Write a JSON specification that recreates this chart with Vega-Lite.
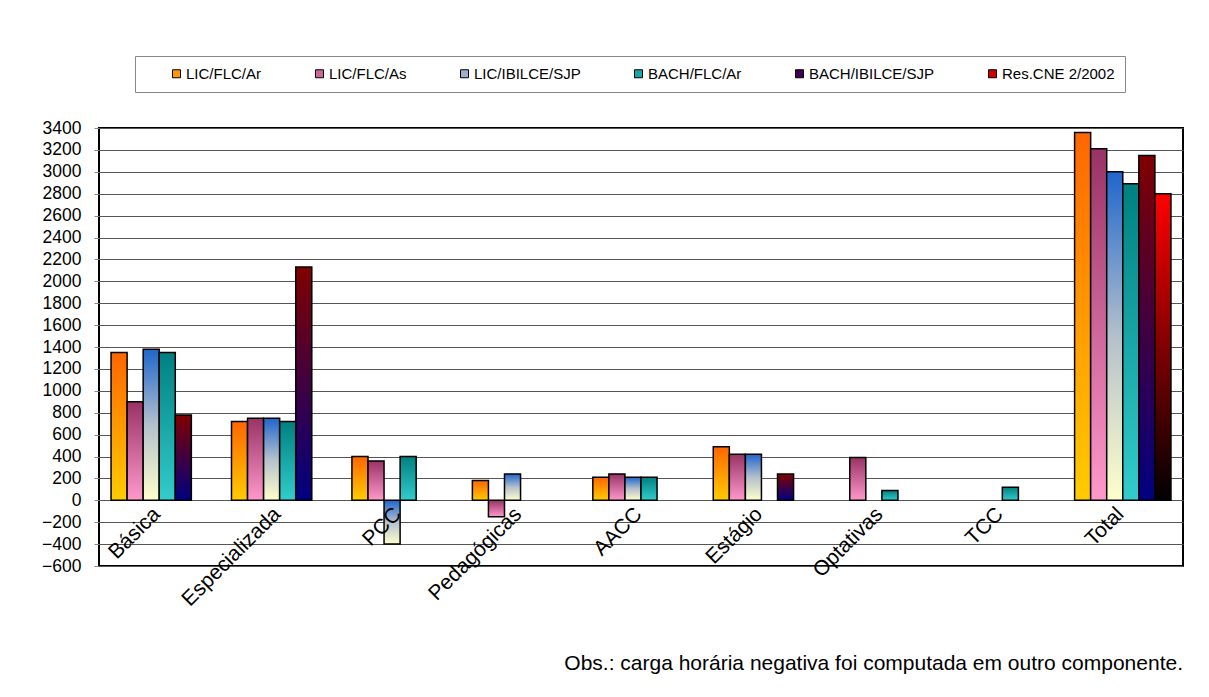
{
  "$schema": "https://vega.github.io/schema/vega-lite/v6.json",
  "width": 1084,
  "height": 438,
  "autosize": {"type": "none"},
  "padding": {"left": 99, "top": 128, "right": 26, "bottom": 131},
  "background": "white",
  "config": {
    "view": {"stroke": "black", "strokeWidth": 2, "fill": "white"},
    "font": "Liberation Sans"
  },
  "title": {
    "text": "Obs.: carga horária negativa foi computada em outro componente.",
    "orient": "bottom",
    "anchor": "end",
    "frame": "group",
    "offset": 44,
    "fontSize": 21,
    "fontWeight": "normal",
    "font": "Liberation Sans",
    "color": "black"
  },
  "data": {
    "values": [
      {"componente": "Básica", "curso": "LIC/FLC/Ar", "horas": 1350},
      {"componente": "Básica", "curso": "LIC/FLC/As", "horas": 900},
      {"componente": "Básica", "curso": "LIC/IBILCE/SJP", "horas": 1380},
      {"componente": "Básica", "curso": "BACH/FLC/Ar", "horas": 1350},
      {"componente": "Básica", "curso": "BACH/IBILCE/SJP", "horas": 780},
      {"componente": "Especializada", "curso": "LIC/FLC/Ar", "horas": 720},
      {"componente": "Especializada", "curso": "LIC/FLC/As", "horas": 750},
      {"componente": "Especializada", "curso": "LIC/IBILCE/SJP", "horas": 750},
      {"componente": "Especializada", "curso": "BACH/FLC/Ar", "horas": 720},
      {"componente": "Especializada", "curso": "BACH/IBILCE/SJP", "horas": 2130},
      {"componente": "PCC", "curso": "LIC/FLC/Ar", "horas": 400},
      {"componente": "PCC", "curso": "LIC/FLC/As", "horas": 360},
      {"componente": "PCC", "curso": "LIC/IBILCE/SJP", "horas": -400},
      {"componente": "PCC", "curso": "BACH/FLC/Ar", "horas": 400},
      {"componente": "Pedagógicas", "curso": "LIC/FLC/Ar", "horas": 180},
      {"componente": "Pedagógicas", "curso": "LIC/FLC/As", "horas": -150},
      {"componente": "Pedagógicas", "curso": "LIC/IBILCE/SJP", "horas": 240},
      {"componente": "AACC", "curso": "LIC/FLC/Ar", "horas": 210},
      {"componente": "AACC", "curso": "LIC/FLC/As", "horas": 240},
      {"componente": "AACC", "curso": "LIC/IBILCE/SJP", "horas": 210},
      {"componente": "AACC", "curso": "BACH/FLC/Ar", "horas": 210},
      {"componente": "Estágio", "curso": "LIC/FLC/Ar", "horas": 490},
      {"componente": "Estágio", "curso": "LIC/FLC/As", "horas": 420},
      {"componente": "Estágio", "curso": "LIC/IBILCE/SJP", "horas": 420},
      {"componente": "Estágio", "curso": "BACH/IBILCE/SJP", "horas": 240},
      {"componente": "Optativas", "curso": "LIC/FLC/As", "horas": 390},
      {"componente": "Optativas", "curso": "BACH/FLC/Ar", "horas": 90},
      {"componente": "TCC", "curso": "BACH/FLC/Ar", "horas": 120},
      {"componente": "Total", "curso": "LIC/FLC/Ar", "horas": 3360},
      {"componente": "Total", "curso": "LIC/FLC/As", "horas": 3210},
      {"componente": "Total", "curso": "LIC/IBILCE/SJP", "horas": 3000},
      {"componente": "Total", "curso": "BACH/FLC/Ar", "horas": 2890},
      {"componente": "Total", "curso": "BACH/IBILCE/SJP", "horas": 3150},
      {"componente": "Total", "curso": "Res.CNE 2/2002", "horas": 2800}
    ]
  },
  "encoding": {
    "x": {
      "field": "componente",
      "type": "nominal",
      "sort": ["Básica", "Especializada", "PCC", "Pedagógicas", "AACC", "Estágio", "Optativas", "TCC", "Total"],
      "scale": {"paddingInner": 0.2, "paddingOuter": 0.1},
      "axis": {
        "title": null,
        "offset": -66,
        "domain": false,
        "ticks": false,
        "grid": false,
        "zindex": 1,
        "labelAngle": -45,
        "labelFontSize": 21,
        "labelColor": "black",
        "labelPadding": 3,
        "labelOffset": -10,
        "labelFont": "Liberation Sans"
      }
    },
    "xOffset": {
      "field": "curso",
      "type": "nominal",
      "scale": {
        "domain": ["LIC/FLC/Ar", "LIC/FLC/As", "LIC/IBILCE/SJP", "BACH/FLC/Ar", "BACH/IBILCE/SJP", "Res.CNE 2/2002"],
        "paddingInner": 0,
        "paddingOuter": 0
      }
    },
    "y": {
      "field": "horas",
      "type": "quantitative",
      "scale": {"domain": [-600, 3400], "nice": false, "zero": false},
      "axis": {
        "title": null,
        "values": [-600, -400, -200, 0, 200, 400, 600, 800, 1000, 1200, 1400, 1600, 1800, 2000, 2200, 2400, 2600, 2800, 3000, 3200, 3400],
        "format": "d",
        "domain": false,
        "grid": true,
        "gridColor": "#555555",
        "gridWidth": 1,
        "gridOpacity": 1,
        "tickColor": "#888888",
        "tickSize": 5,
        "labelFontSize": 17.5,
        "labelColor": "black",
        "labelPadding": 13,
        "labelFont": "Liberation Sans"
      }
    }
  },
  "layer": [
    {
      "transform": [{"filter": "datum.curso === 'LIC/FLC/Ar'"}],
      "mark": {"type": "bar", "stroke": "black", "strokeWidth": 1.5,
        "fill": {"gradient": "linear", "x1": 0, "y1": 0, "x2": 0, "y2": 1, "stops": [{"offset": 0, "color": "#FF6600"}, {"offset": 1, "color": "#FFCC00"}]}}
    },
    {
      "transform": [{"filter": "datum.curso === 'LIC/FLC/As'"}],
      "mark": {"type": "bar", "stroke": "black", "strokeWidth": 1.5,
        "fill": {"gradient": "linear", "x1": 0, "y1": 0, "x2": 0, "y2": 1, "stops": [{"offset": 0, "color": "#993366"}, {"offset": 1, "color": "#FF99CC"}]}}
    },
    {
      "transform": [{"filter": "datum.curso === 'LIC/IBILCE/SJP'"}],
      "mark": {"type": "bar", "stroke": "black", "strokeWidth": 1.5,
        "fill": {"gradient": "linear", "x1": 0, "y1": 0, "x2": 0, "y2": 1, "stops": [{"offset": 0, "color": "#1F66CC"}, {"offset": 0.5, "color": "#B4C0CC"}, {"offset": 1, "color": "#FFFFCC"}]}}
    },
    {
      "transform": [{"filter": "datum.curso === 'BACH/FLC/Ar'"}],
      "mark": {"type": "bar", "stroke": "black", "strokeWidth": 1.5,
        "fill": {"gradient": "linear", "x1": 0, "y1": 0, "x2": 0, "y2": 1, "stops": [{"offset": 0, "color": "#008080"}, {"offset": 1, "color": "#33CCCC"}]}}
    },
    {
      "transform": [{"filter": "datum.curso === 'BACH/IBILCE/SJP'"}],
      "mark": {"type": "bar", "stroke": "black", "strokeWidth": 1.5,
        "fill": {"gradient": "linear", "x1": 0, "y1": 0, "x2": 0, "y2": 1, "stops": [{"offset": 0, "color": "#800000"}, {"offset": 1, "color": "#000080"}]}}
    },
    {
      "transform": [{"filter": "datum.curso === 'Res.CNE 2/2002'"}],
      "mark": {"type": "bar", "stroke": "black", "strokeWidth": 1.5,
        "fill": {"gradient": "linear", "x1": 0, "y1": 0, "x2": 0, "y2": 1, "stops": [{"offset": 0, "color": "#FF0000"}, {"offset": 1, "color": "#000000"}]}}
    },
    {
      "mark": {"type": "bar", "opacity": 0},
      "encoding": {
        "color": {
          "field": "curso",
          "type": "nominal",
          "scale": {
            "domain": ["LIC/FLC/Ar", "LIC/FLC/As", "LIC/IBILCE/SJP", "BACH/FLC/Ar", "BACH/IBILCE/SJP", "Res.CNE 2/2002"],
            "range": ["#FF9900", "#CC6699", "#9FB0CC", "#1AA6A6", "#400050", "#CC0000"]
          },
          "legend": {
            "title": " ",
            "titleOrient": "left",
            "titlePadding": 24,
            "titleFontSize": 15,
            "orient": "none",
            "direction": "horizontal",
            "legendX": 36,
            "legendY": -72,
            "padding": 10,
            "strokeColor": "#888888",
            "fillColor": "white",
            "symbolType": "square",
            "symbolSize": 64,
            "symbolStrokeColor": "black",
            "symbolStrokeWidth": 1,
            "symbolOpacity": 1,
            "labelFontSize": 15,
            "labelColor": "black",
            "labelFont": "Liberation Sans",
            "labelOffset": 2,
            "labelExpr": "datum.label === 'Res.CNE 2/2002' ? datum.label + '\u2003\u2003' : datum.label",
            "columnPadding": 50,
            "encode": {
              "symbols": {
                "update": {
                  "stroke": {"value": "black"},
                  "strokeWidth": {"value": 1},
                  "opacity": {"value": 1},
                  "fill": {"signal": "datum.value === 'LIC/FLC/Ar' ? {gradient: 'linear', x1: 0, y1: 0, x2: 0, y2: 1, stops: [{offset: 0, color: '#FF6600'}, {offset: 1, color: '#FFCC00'}]} : datum.value === 'LIC/FLC/As' ? {gradient: 'linear', x1: 0, y1: 0, x2: 0, y2: 1, stops: [{offset: 0, color: '#993366'}, {offset: 1, color: '#FF99CC'}]} : datum.value === 'LIC/IBILCE/SJP' ? {gradient: 'linear', x1: 0, y1: 0, x2: 0, y2: 1, stops: [{offset: 0, color: '#1F66CC'}, {offset: 1, color: '#FFFFCC'}]} : datum.value === 'BACH/FLC/Ar' ? {gradient: 'linear', x1: 0, y1: 0, x2: 0, y2: 1, stops: [{offset: 0, color: '#008080'}, {offset: 1, color: '#33CCCC'}]} : datum.value === 'BACH/IBILCE/SJP' ? {gradient: 'linear', x1: 0, y1: 0, x2: 0, y2: 1, stops: [{offset: 0, color: '#800000'}, {offset: 1, color: '#000080'}]} : {gradient: 'linear', x1: 0, y1: 0, x2: 0, y2: 1, stops: [{offset: 0, color: '#FF0000'}, {offset: 1, color: '#000000'}]}"}
                }
              }
            }
          }
        }
      }
    }
  ]
}
